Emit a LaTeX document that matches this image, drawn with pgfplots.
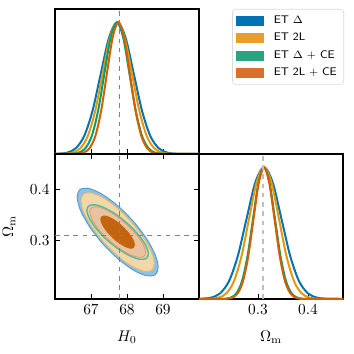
\documentclass[border=0pt]{standalone}
\usepackage{pgfplots}
\pgfplotsset{compat=1.18}

% line colours (1D marginals)
\definecolor{cblue}{RGB}{1,115,178}
\definecolor{cyellow}{RGB}{228,152,10}
\definecolor{cgreen}{RGB}{2,158,115}
\definecolor{corange}{RGB}{213,94,0}
% legend patches
\definecolor{lblue}{RGB}{1,115,180}
\definecolor{lyellow}{RGB}{230,160,40}
\definecolor{lgreen}{RGB}{40,165,128}
\definecolor{lorange}{RGB}{218,112,42}
% contour fills / edges
\definecolor{fblue}{RGB}{142,193,228}
\definecolor{eblue}{RGB}{80,155,210}
\definecolor{fyellow}{RGB}{240,216,168}
\definecolor{eyellow}{RGB}{232,185,110}
\definecolor{fgreen}{RGB}{236,203,170}
\definecolor{egreen}{RGB}{70,190,160}
\definecolor{forange}{RGB}{233,195,160}
\definecolor{eorange}{RGB}{225,150,105}
\definecolor{dorange}{RGB}{194,100,16}

\pgfplotsset{
  corner/.style={
    scale only axis, width=93.6pt, height=94.25pt,
    anchor=south west,
    tick align=inside, major tick length=3pt,
    axis line style={line width=0.8pt},
    every tick/.style={black, line width=0.6pt},
    tick label style={font=\fontsize{10}{12}\selectfont},
    label style={font=\fontsize{10}{12}\selectfont},
    xlabel shift=4pt, ylabel shift=2.5pt,
  },
  marg/.style={smooth, no markers, line width=1.3pt, forget plot},
  fid/.style={gray, dashed, line width=0.5pt, forget plot},
  patch/.style={legend image code/.code={%
    \fill[#1, sharp corners] (0pt,-2.95pt) rectangle (17pt,2.95pt);}},
}

\begin{document}
\begin{tikzpicture}
\path[use as bounding box] (0pt,0pt) rectangle (230.1pt,230.1pt);

% ---- H0 marginal ----
\begin{axis}[corner, at={(35.75pt,130pt)},
    xmin=66, xmax=70, ymin=0, ymax=1.1,
    xtick={67,68,69}, xticklabels={}, ytick=\empty, xtick pos=left,
    legend style={at={(2.007,1)}, anchor=north east, draw=gray!30,
      rounded corners=2pt, font=\sffamily\fontsize{7.2}{9}\selectfont,
      row sep=0.6pt, inner xsep=2.5pt, inner ysep=2.5pt,
      /tikz/every odd column/.append style={column sep=5pt}},
    legend cell align=left]
\addlegendimage{patch=lblue}
\addlegendentry{ET $\Delta$}
\addlegendimage{patch=lyellow}
\addlegendentry{ET 2L}
\addlegendimage{patch=lgreen}
\addlegendentry{ET $\Delta$ + CE}
\addlegendimage{patch=lorange}
\addlegendentry{ET 2L + CE}

\addplot[marg, cblue] coordinates {
 (66.0,0) (66.12,0.0022) (66.35,0.0111) (66.58,0.0439) (66.81,0.1353)
 (67.04,0.3247) (67.27,0.6065) (67.50,0.8825) (67.73,1) (67.96,0.8825)
 (68.19,0.6065) (68.42,0.3247) (68.65,0.1353) (68.88,0.0439) (69.11,0.0111)
 (69.34,0.0022) (69.57,0.0003) (70.0,0)};
\addplot[marg, cyellow] coordinates {
 (66.0,0) (66.295,0.0022) (66.50,0.0111) (66.705,0.0439) (66.91,0.1353)
 (67.115,0.3247) (67.32,0.6065) (67.525,0.8825) (67.73,1) (67.935,0.8825)
 (68.14,0.6065) (68.345,0.3247) (68.55,0.1353) (68.755,0.0439) (68.96,0.0111)
 (69.165,0.0022) (69.37,0.0003) (70.0,0)};
\addplot[marg, cgreen] coordinates {
 (66.0,0) (66.32,0.0003) (66.495,0.0022) (66.67,0.0111) (66.845,0.0439) (67.02,0.1353)
 (67.195,0.3247) (67.37,0.6065) (67.545,0.8825) (67.72,1) (67.895,0.8825)
 (68.07,0.6065) (68.245,0.3247) (68.42,0.1353) (68.595,0.0439) (68.77,0.0111)
 (68.945,0.0022) (69.12,0.0003) (70.0,0)};
\addplot[marg, corange] coordinates {
 (66.0,0) (66.48,0.0003) (66.64,0.0022) (66.80,0.0111) (66.96,0.0439) (67.12,0.1353)
 (67.28,0.3247) (67.44,0.6065) (67.60,0.8825) (67.76,1) (67.92,0.8825)
 (68.08,0.6065) (68.24,0.3247) (68.40,0.1353) (68.56,0.0439) (68.72,0.0111)
 (68.88,0.0022) (69.04,0.0003) (70.0,0)};
\addplot[fid] coordinates {(67.8,0) (67.8,1.1)};
\end{axis}

% ---- H0 - Omega_m contours ----
\begin{axis}[corner, at={(35.75pt,35.75pt)},
    xmin=66, xmax=70, ymin=0.184, ymax=0.470,
    xtick={67,68,69}, ytick={0.3,0.4},
    xlabel={$H_0$}, ylabel={$\Omega_\mathrm{m}$}]
\addplot[smooth cycle, fill=fblue, draw=eblue, line width=0.6pt] coordinates {
 (68.866,0.2465) (68.780,0.2718) (68.536,0.3037) (68.171,0.3376)
 (67.740,0.3681) (67.309,0.3907) (66.944,0.4020) (66.700,0.4002)
 (66.614,0.3855) (66.700,0.3602) (66.944,0.3283) (67.309,0.2944)
 (67.740,0.2639) (68.171,0.2413) (68.536,0.2300) (68.780,0.2318)};
\addplot[smooth cycle, fill=fyellow, draw=eyellow, line width=0.6pt] coordinates {
 (68.760,0.2538) (68.682,0.2764) (68.461,0.3050) (68.131,0.3353)
 (67.740,0.3627) (67.349,0.3829) (67.019,0.3930) (66.798,0.3914)
 (66.720,0.3782) (66.798,0.3556) (67.019,0.3270) (67.349,0.2967)
 (67.740,0.2693) (68.131,0.2491) (68.461,0.2390) (68.682,0.2406)};
\addplot[smooth cycle, fill=fgreen, draw=egreen, line width=0.9pt] coordinates {
 (68.595,0.2728) (68.530,0.2885) (68.344,0.3083) (68.067,0.3294)
 (67.740,0.3484) (67.413,0.3624) (67.136,0.3695) (66.950,0.3683)
 (66.885,0.3592) (66.950,0.3435) (67.136,0.3237) (67.413,0.3026)
 (67.740,0.2836) (68.067,0.2696) (68.344,0.2625) (68.530,0.2637)};
\addplot[smooth cycle, fill=forange, draw=eorange, line width=0.5pt] coordinates {
 (68.515,0.2760) (68.456,0.2905) (68.288,0.3089) (68.037,0.3284)
 (67.740,0.3460) (67.443,0.3590) (67.192,0.3655) (67.024,0.3645)
 (66.965,0.3560) (67.024,0.3415) (67.192,0.3231) (67.443,0.3036)
 (67.740,0.2860) (68.037,0.2730) (68.288,0.2665) (68.456,0.2675)};
\addplot[smooth cycle, fill=dorange, draw=dorange, line width=0.5pt] coordinates {
 (68.210,0.2904) (68.174,0.2997) (68.072,0.3115) (67.920,0.3239)
 (67.740,0.3352) (67.560,0.3435) (67.408,0.3477) (67.306,0.3470)
 (67.270,0.3416) (67.306,0.3323) (67.408,0.3205) (67.560,0.3081)
 (67.740,0.2968) (67.920,0.2885) (68.072,0.2843) (68.174,0.2850)};
\addplot[fid] coordinates {(67.8,0.184) (67.8,0.470)};
\addplot[fid] coordinates {(66,0.31) (70,0.31)};
\end{axis}

% ---- Omega_m marginal ----
\begin{axis}[corner, at={(129.35pt,35.75pt)},
    xmin=0.182, xmax=0.470, ymin=0, ymax=1.1,
    xtick={0.3,0.4}, ytick=\empty, xtick pos=left,
    xlabel={$\Omega_\mathrm{m}$}]
\addplot[marg, cblue] coordinates {
 (0.172,0.0003) (0.1895,0.0022) (0.207,0.0111) (0.2245,0.0439) (0.242,0.1353)
 (0.2595,0.3247) (0.277,0.6065) (0.2945,0.8825) (0.312,1) (0.3295,0.8825)
 (0.347,0.6065) (0.3645,0.3247) (0.382,0.1353) (0.3995,0.0439) (0.417,0.0111)
 (0.4345,0.0022) (0.452,0.0003) (0.47,0)};
\addplot[marg, cyellow] coordinates {
 (0.18,0) (0.192,0.0003) (0.207,0.0022) (0.222,0.0111) (0.237,0.0439) (0.252,0.1353)
 (0.267,0.3247) (0.282,0.6065) (0.297,0.8825) (0.312,1) (0.327,0.8825)
 (0.342,0.6065) (0.357,0.3247) (0.372,0.1353) (0.387,0.0439) (0.402,0.0111)
 (0.417,0.0022) (0.432,0.0003) (0.47,0)};
\addplot[marg, cgreen] coordinates {
 (0.18,0) (0.224,0.0003) (0.235,0.0022) (0.246,0.0111) (0.257,0.0439) (0.268,0.1353)
 (0.279,0.3247) (0.290,0.6065) (0.301,0.8825) (0.312,1) (0.323,0.8825)
 (0.334,0.6065) (0.345,0.3247) (0.356,0.1353) (0.367,0.0439) (0.378,0.0111)
 (0.389,0.0022) (0.400,0.0003) (0.47,0)};
\addplot[marg, corange] coordinates {
 (0.18,0) (0.228,0.0003) (0.2385,0.0022) (0.249,0.0111) (0.2595,0.0439) (0.270,0.1353)
 (0.2805,0.3247) (0.291,0.6065) (0.3015,0.8825) (0.312,1) (0.3225,0.8825)
 (0.333,0.6065) (0.3435,0.3247) (0.354,0.1353) (0.3645,0.0439) (0.375,0.0111)
 (0.3855,0.0022) (0.396,0.0003) (0.47,0)};
\addplot[fid, gray!50, line width=0.8pt] coordinates {(0.31,0) (0.31,1.1)};
\end{axis}
\end{tikzpicture}
\end{document}
